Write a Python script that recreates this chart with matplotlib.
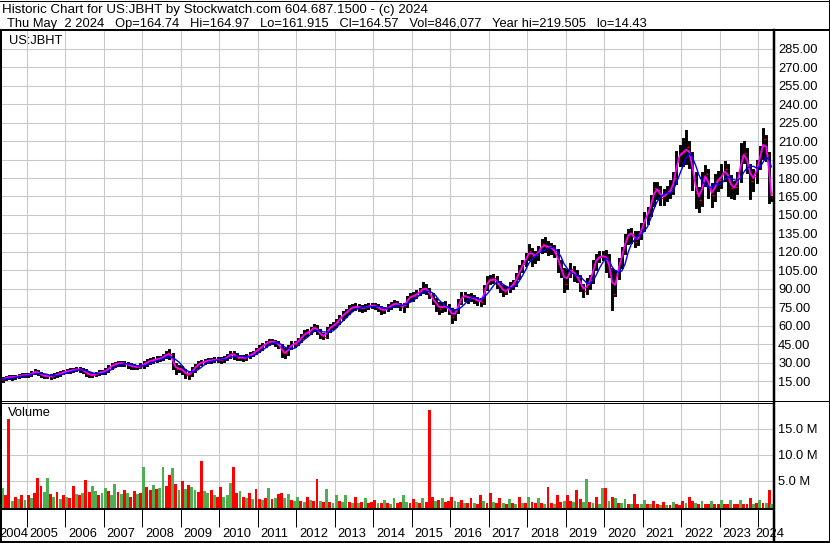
import numpy as np
import pandas as pd
import matplotlib
matplotlib.use('Agg')
import matplotlib.pyplot as plt
from matplotlib.lines import Line2D
from matplotlib.transforms import offset_copy

# monthly bars, Apr 2004 .. May 2024
close = [15.6, 16.8, 17.8, 18.4, 18.0, 18.6, 19.2, 20.0, 19.6,
         20.2, 21.6, 23.0, 21.2, 19.6, 18.8, 19.2, 18.6, 19.6, 20.6, 21.6, 22.6,
         23.0, 23.6, 24.2, 24.6, 24.4, 23.4, 21.0, 20.0, 19.8, 21.0, 22.0, 22.4,
         23.6, 26.0, 28.0, 29.0, 29.6, 29.4, 29.0, 28.0, 27.0, 26.4, 26.6, 27.4,
         29.0, 31.0, 31.6, 32.2, 33.0, 33.4, 35.0, 37.4, 36.6, 28.0, 24.6, 25.4,
         22.8, 20.2, 20.4, 24.0, 27.0, 29.6, 30.2, 31.0, 32.0, 31.6, 32.6, 32.4,
         32.2, 33.2, 35.2, 37.4, 36.0, 34.0, 34.2, 33.4, 35.0, 36.4, 37.8, 40.2,
         42.0, 44.0, 46.0, 47.2, 47.0, 46.2, 43.6, 38.2, 37.4, 42.4, 45.0, 45.2,
         48.0, 51.0, 54.0, 54.4, 57.0, 59.2, 55.4, 52.0, 51.0, 56.6, 59.0, 60.4,
         63.0, 66.4, 69.4, 71.0, 74.0, 75.0, 75.6, 74.8, 74.0, 75.2, 76.0, 76.6,
         76.0, 74.2, 72.4, 73.2, 75.0, 77.0, 78.2, 77.4, 75.2, 76.4, 82.0, 84.0,
         84.0, 86.4, 88.4, 91.0, 89.0, 84.6, 80.4, 77.0, 73.6, 76.4, 75.0, 72.6,
         67.4, 71.6, 79.6, 84.0, 84.4, 82.0, 83.4, 81.0, 80.2, 79.4, 90.6, 97.0,
         97.2, 98.4, 94.0, 91.2, 87.0, 89.4, 92.0, 94.2, 99.4, 106.2, 110.4, 116.0,
         121.0, 116.4, 117.2, 121.4, 126.4, 124.0, 124.4, 122.0, 120.0, 110.2, 105.0, 94.0,
         103.0, 106.2, 101.0, 99.2, 92.0, 88.4, 94.0, 97.4, 110.2, 115.0, 116.0, 117.0,
         115.0, 104.0, 86.0, 100.4, 112.0, 120.0, 131.6, 135.0, 134.6, 128.0, 133.0, 140.4,
         148.0, 152.4, 162.0, 172.0, 170.0, 164.0, 166.0, 168.4, 170.0, 180.0, 196.0, 200.0,
         201.0, 205.0, 198.0, 180.0, 168.0, 162.0, 180.0, 183.0, 170.0, 166.0, 178.0, 178.4,
         183.0, 187.6, 178.0, 172.0, 172.6, 180.4, 198.0, 200.0, 190.0, 178.0, 182.0, 190.4,
         202.0, 212.0, 199.0, 168.0, 164.57]

high = [16.4, 17.4, 18.4, 19.2, 19.0, 19.3, 19.9, 20.8, 20.6,
        21.0, 22.4, 24.2, 23.4, 21.6, 20.2, 20.0, 19.8, 20.4, 21.4, 22.4, 23.4,
        24.0, 24.4, 25.0, 25.6, 25.6, 24.8, 23.8, 21.6, 20.8, 21.8, 22.8, 23.2,
        24.4, 26.8, 29.0, 30.0, 30.8, 30.6, 30.4, 29.6, 28.6, 27.8, 27.6, 28.6,
        30.2, 32.0, 32.8, 33.4, 34.2, 34.8, 36.4, 38.8, 40.0, 37.0, 29.0, 27.0,
        26.0, 23.6, 22.4, 25.2, 28.0, 30.6, 31.4, 32.0, 33.2, 33.0, 33.6, 33.6,
        33.8, 34.2, 36.2, 38.6, 38.4, 36.8, 35.4, 35.0, 36.0, 37.4, 38.8, 41.2,
        43.2, 45.2, 47.0, 48.6, 48.4, 47.6, 47.0, 44.0, 41.0, 43.6, 46.4, 46.6,
        49.4, 52.2, 55.4, 56.2, 58.4, 60.6, 59.6, 56.2, 53.4, 57.8, 60.4, 61.8,
        64.6, 67.8, 70.8, 72.6, 75.6, 76.8, 77.6, 77.0, 75.8, 76.6, 77.6, 78.0,
        78.0, 76.8, 74.8, 74.6, 76.4, 78.4, 79.8, 79.0, 78.0, 77.8, 83.6, 86.0,
        86.4, 88.0, 90.2, 94.6, 93.2, 89.8, 86.0, 81.4, 78.2, 78.6, 79.0, 76.4,
        73.2, 73.0, 80.8, 86.4, 86.6, 85.2, 85.6, 84.2, 82.4, 82.0, 92.4, 99.4,
        100.4, 101.0, 99.4, 95.4, 92.0, 91.6, 94.4, 96.6, 101.6, 108.4, 112.6, 118.4,
        125.4, 122.0, 120.2, 124.0, 130.0, 131.6, 127.8, 126.0, 124.4, 121.4, 112.4, 106.4,
        105.6, 110.4, 108.0, 104.4, 100.6, 93.0, 98.0, 100.2, 112.6, 117.8, 119.6, 120.0,
        121.0, 117.8, 106.0, 104.8, 114.4, 123.0, 133.4, 137.6, 138.4, 136.0, 136.4, 143.0,
        151.2, 156.0, 165.0, 175.6, 176.0, 172.6, 170.4, 173.0, 177.6, 184.4, 201.4, 206.0,
        212.0, 218.6, 209.0, 200.6, 184.0, 172.0, 184.4, 190.0, 186.4, 175.4, 182.4, 184.6,
        191.0, 193.2, 190.4, 181.6, 176.6, 184.2, 207.6, 209.4, 203.4, 190.6, 186.2, 193.6,
        205.6, 219.5, 214.2, 200.4, 164.97]

low = [14.6, 15.3, 16.4, 17.3, 16.9, 17.6, 18.2, 18.8, 18.9,
       19.0, 19.8, 21.2, 20.4, 18.9, 18.1, 18.3, 17.8, 18.4, 19.2, 20.2, 21.2,
       22.0, 22.4, 23.0, 23.6, 23.2, 22.4, 20.2, 19.2, 19.0, 19.6, 20.6, 21.4,
       21.8, 23.2, 25.6, 27.6, 28.4, 28.2, 27.8, 26.6, 25.8, 25.2, 25.4, 26.0,
       26.6, 28.4, 30.0, 30.8, 31.6, 32.0, 32.6, 34.6, 33.6, 25.4, 21.8, 23.2,
       21.6, 18.6, 17.8, 19.8, 23.4, 26.4, 28.8, 29.6, 30.6, 30.4, 31.0, 31.4,
       30.8, 31.4, 32.8, 34.8, 33.8, 32.8, 32.8, 32.4, 33.0, 34.6, 36.0, 37.4,
       39.4, 41.4, 43.2, 45.2, 45.6, 44.4, 42.4, 35.0, 34.8, 36.8, 41.6, 43.4,
       44.8, 47.6, 50.6, 52.6, 53.8, 56.4, 54.2, 50.6, 49.6, 50.8, 55.4, 58.2,
       59.6, 62.4, 65.6, 68.2, 70.2, 72.6, 73.6, 72.8, 72.2, 73.0, 74.2, 74.8,
       74.0, 72.4, 70.6, 71.0, 72.6, 74.4, 76.0, 75.6, 73.4, 72.0, 76.0, 80.6,
       81.2, 83.0, 85.4, 87.6, 86.6, 83.0, 78.6, 72.6, 70.6, 72.2, 73.0, 70.4,
       63.2, 65.2, 71.0, 78.2, 81.0, 79.6, 80.6, 79.4, 77.8, 76.8, 78.6, 89.6,
       94.6, 95.6, 91.6, 88.4, 85.2, 86.2, 88.4, 90.6, 92.8, 98.4, 104.6, 109.0,
       114.2, 109.6, 112.0, 114.2, 119.6, 120.8, 118.6, 118.8, 116.8, 104.4, 100.4, 87.8,
       91.0, 100.4, 97.4, 96.0, 88.6, 84.4, 86.8, 90.6, 95.6, 106.4, 112.2, 113.8,
       104.6, 100.6, 73.6, 84.6, 98.4, 108.0, 118.8, 127.6, 128.0, 124.6, 126.0, 131.2,
       138.0, 143.6, 149.8, 158.4, 164.0, 158.6, 159.2, 162.4, 164.2, 167.8, 176.0, 190.4,
       191.0, 192.0, 188.6, 171.4, 156.4, 153.2, 158.2, 174.4, 164.4, 157.0, 162.4, 170.2,
       172.4, 178.4, 166.2, 164.6, 163.8, 168.0, 178.0, 193.2, 185.0, 164.0, 170.0, 176.4,
       188.2, 196.0, 195.0, 160.2, 161.915]

# volume in millions
volume = [2.0, 4.0, 2.6, 17.4, 1.6, 2.4, 2.0, 2.6, 1.8,
          2.6, 2.2, 3.0, 6.0, 4.5, 3.2, 6.0, 2.8, 2.4, 3.2, 2.0, 2.6,
          2.4, 2.2, 4.5, 2.8, 2.6, 3.0, 5.6, 3.2, 4.4, 3.4, 2.6, 3.0,
          4.0, 3.4, 2.6, 4.8, 3.2, 2.8, 3.6, 3.0, 2.4, 3.4, 2.8, 3.0,
          8.0, 4.2, 3.6, 4.6, 3.8, 4.0, 8.0, 4.4, 6.6, 7.9, 4.8, 3.6,
          5.4, 3.8, 4.6, 4.2, 3.6, 3.2, 9.3, 3.4, 3.0, 3.6, 2.6, 2.4,
          4.3, 2.4, 2.6, 5.0, 8.1, 3.0, 3.4, 2.4, 2.2, 3.0, 2.0, 3.8,
          2.0, 1.8, 2.2, 4.0, 2.0, 2.2, 2.8, 3.0, 2.2, 2.8, 1.8, 1.6,
          2.4, 1.6, 1.4, 2.4, 1.8, 1.6, 5.8, 1.6, 1.4, 3.8, 1.4, 1.2,
          2.6, 1.6, 1.4, 2.6, 1.4, 1.2, 2.4, 1.2, 1.4, 2.2, 1.2, 1.4,
          1.8, 1.2, 1.2, 1.8, 1.2, 1.0, 2.2, 1.2, 1.4, 2.6, 1.4, 1.2,
          2.0, 1.4, 1.2, 2.2, 1.4, 19.0, 2.4, 1.6, 1.8, 2.2, 1.4, 1.6,
          2.4, 1.6, 1.4, 1.8, 1.2, 1.2, 2.2, 1.2, 1.0, 2.6, 1.6, 1.2,
          3.0, 1.4, 1.2, 2.2, 1.2, 1.0, 2.0, 1.2, 1.0, 2.4, 1.2, 1.2,
          2.4, 1.4, 1.2, 2.2, 1.2, 1.0, 4.3, 1.2, 1.0, 2.6, 1.4, 1.6,
          2.6, 1.6, 1.4, 3.7, 2.0, 1.4, 5.8, 1.4, 1.2, 2.4, 1.0, 4.0,
          4.0, 1.6, 2.4, 2.2, 1.2, 1.2, 2.0, 1.0, 1.0, 2.8, 1.0, 1.0,
          1.8, 1.0, 0.9, 1.6, 0.9, 0.8, 1.4, 0.8, 0.8, 1.4, 1.0, 0.8,
          1.6, 1.2, 2.3, 1.6, 1.2, 1.0, 1.6, 1.0, 0.9, 1.6, 1.0, 1.0,
          1.8, 1.0, 1.0, 1.8, 1.0, 1.0, 1.8, 1.0, 1.0, 2.2, 1.0, 1.2,
          1.8, 1.2, 1.2, 3.7, 0.9]

# bar colour seen on the chart: r = down, g = up
vol_side = ('ggrrgrgrg'
            'rgrrrggrgrgr' 'grrgrgrrggrg' 'grggrgrgrrgr' 'grrgrggrrgrg'
            'rgrggrrggrgr' 'rgggrrgrgrgr' 'rgrgrgrrggrg' 'grgrgrrgrgrg'
            'grggrgrgrgrr' 'rgrgrggrrggr' 'rgrgrrrgrgrr' 'rggrgrrgrrgr'
            'rgrrgrgrgrgr' 'grrgrgrrgrrg' 'rrgrrggrgrgg' 'rgrgrggrgrrg'
            'grgrrgrgrgrr' 'rgrrgrgrrgrr' 'grrgrrgrrrgr'
            'grgrg')

years = list(range(2004, 2025))
price_ticks = list(range(15, 286, 15))
vol_ticks = [5, 10, 15]

months = pd.period_range('2004-04', '2024-05', freq='M')
t = np.array([p.year + (p.month - 0.5) / 12 for p in months])
t[-1] = 2024.34  # only two days of May

W, H = 830, 543
fig = plt.figure(figsize=(W / 100, H / 100), dpi=100)
plt.rcParams['font.family'] = ['Liberation Sans', 'DejaVu Sans']
FS = 9.3
GRID = '#c8c8c8'
XL = (2004.31, 2024.41)


def px_axes(x0, y0, x1, y1):
    a = fig.add_axes([x0 / W, 1 - y1 / H, (x1 - x0) / W, (y1 - y0) / H])
    a.set_facecolor('white')
    for s in a.spines.values():
        s.set_visible(False)
    return a


def hline(y, x0, x1, lw=1.0):
    fig.add_artist(Line2D([x0 / W, x1 / W], [1 - y / H, 1 - y / H], color='black',
                          lw=lw * 0.72, transform=fig.transFigure, zorder=10))


def vline(x, y0, y1, lw=1.0):
    fig.add_artist(Line2D([x / W, x / W], [1 - y0 / H, 1 - y1 / H], color='black',
                          lw=lw * 0.72, transform=fig.transFigure, zorder=10))


# price panel
ax = px_axes(0, 31, 774, 401)
ax.set_xlim(*XL)
ax.set_ylim(-1.26, 299.55)
ax.set_xticks(years[1:])
ax.set_xticklabels([])
ax.yaxis.tick_right()
ax.set_yticks(price_ticks)
ax.set_yticklabels([f'{v:.2f}' for v in price_ticks], fontsize=FS)
ax.tick_params(length=0, pad=3)
ax.tick_params(axis='x', length=0)
ax.grid(color=GRID, lw=0.75)
ax.set_axisbelow(True)

ax.vlines(t, low, high, color='black', lw=2.1, capstyle='projecting', zorder=2)
tick_tr = offset_copy(ax.transData, fig=fig, x=1.5, y=0, units='dots')
ax.plot(t, close, ls='none', marker='_', ms=2, mew=1.0, color='red', transform=tick_tr, zorder=3)

s = pd.Series(close)
ax.plot(t, s.rolling(2, min_periods=1).mean(), color='#ff00ff', lw=1.3, zorder=4)
ax.plot(t, s.rolling(5, min_periods=1).mean(), color='#0000ff', lw=1.0, zorder=5)
ax.text(9 / 774, 1 - (41.5 - 31) / 370, 'US:JBHT', transform=ax.transAxes,
        fontsize=FS, va='center', ha='left')

# volume panel
axv = px_axes(0, 404, 774, 509)
axv.set_xlim(*XL)
axv.set_ylim(-0.44, 19.75)
axv.set_xticks(years[1:])
axv.set_xticklabels([])
axv.yaxis.tick_right()
axv.set_yticks(vol_ticks)
axv.set_yticklabels([f'{v:.1f} M' for v in vol_ticks], fontsize=FS)
axv.tick_params(length=0, pad=3)
axv.grid(color=GRID, lw=0.75)
axv.set_axisbelow(True)
colors = ['#ff0000' if c == 'r' else '#4caf50' for c in vol_side]
axv.bar(t, volume, bottom=-0.44, width=0.9 / 12, color=colors, zorder=2)
axv.text(8 / 774, 1 - (413 - 404) / 105, 'Volume', transform=axv.transAxes,
         fontsize=FS, va='center', ha='left')

# year strip
axy = px_axes(0, 509, 774, 542)
axy.set_xlim(*XL)
axy.set_ylim(0, 1)
axy.set_xticks([])
axy.set_yticks([])
for y in years:
    if y == years[0]:
        tr = offset_copy(axy.transData, fig=fig, x=-1, units='dots')
        xx = XL[0]
    elif y == years[-1]:
        tr = offset_copy(axy.transData, fig=fig, x=-3, units='dots')
        xx = y
    else:
        tr = offset_copy(axy.transData, fig=fig, x=3, units='dots')
        xx = y
    axy.text(xx, 0.24, str(y), transform=tr, fontsize=FS, va='center', ha='left')
    if y > years[0]:
        axy.vlines(y, 1 - 18 / 33, 1, color='black', lw=0.72)

# header, each line stretched to the width it has on the chart
r = fig.canvas.get_renderer()
line1 = 'Historic Chart for US:JBHT by Stockwatch.com 604.687.1500 - (c) 2024'
line2 = ('Thu May  2 2024   Op=164.74   Hi=164.97   Lo=161.915   Cl=164.57   '
         'Vol=846,077   Year hi=219.505   lo=14.43')
for txt, x0, x1, yc in [(line1, 2, 428, 9.5), (line2, 7, 647, 23.5)]:
    tx = fig.text(x0 / W, 1 - yc / H, txt, fontsize=FS, va='center', ha='left')
    w = tx.get_window_extent(r).width
    tx.set_fontsize(FS * (x1 - x0) / w)

# frame
hline(0.5, 0, 830)
hline(30, 0, 830, 2)
vline(828.5, 0, 543)
vline(1, 30, 543, 2)
hline(400.5, 0, 830)
hline(403, 0, 774)
vline(773.5, 30, 543, 2.5)
hline(509, 0, 774, 2)
hline(541.5, 0, 830, 2)

fig.savefig('out.png', dpi=100)
